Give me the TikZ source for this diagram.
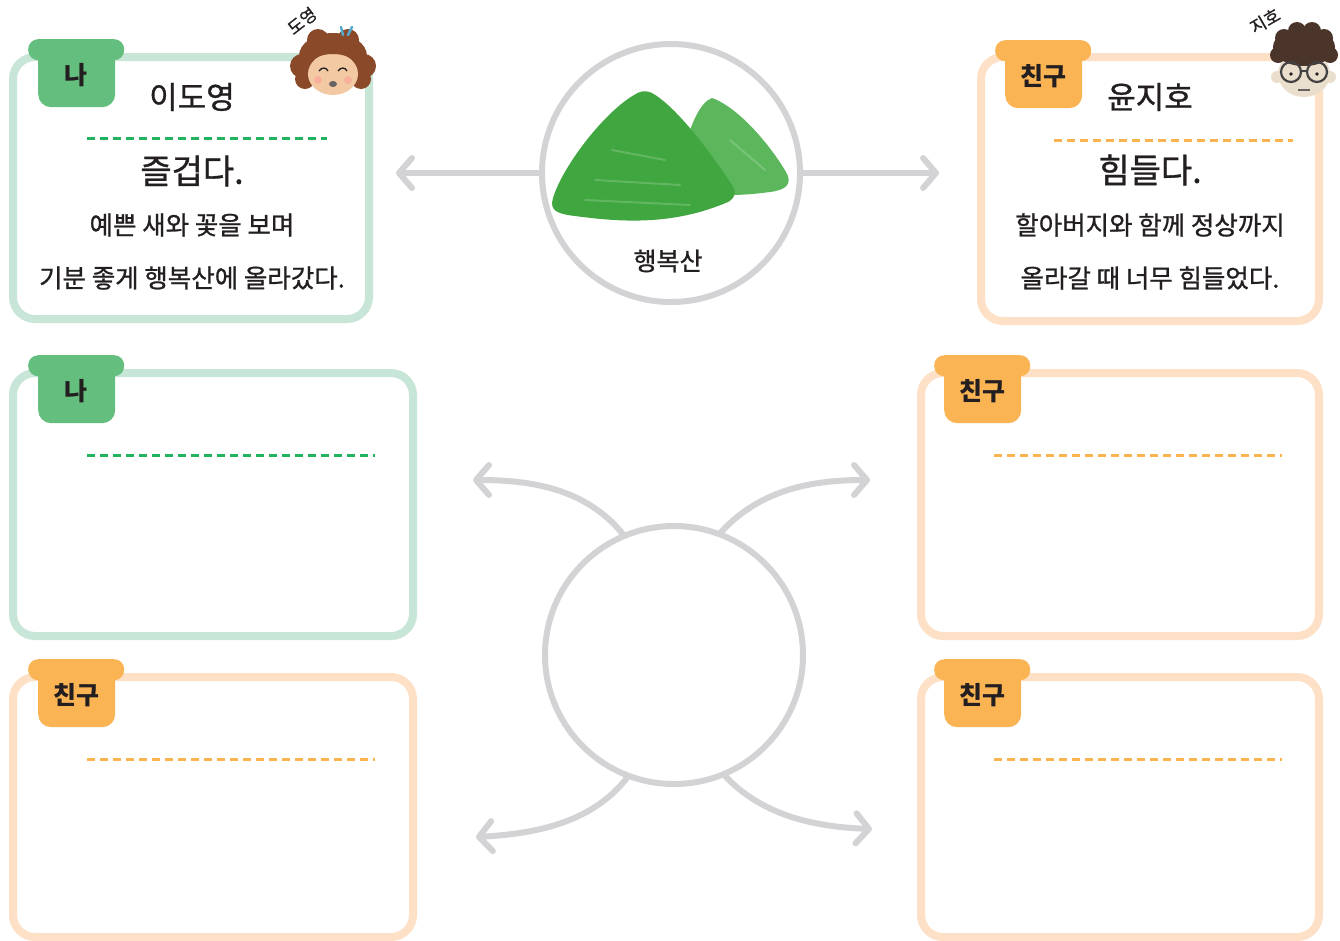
\documentclass[tikz,border=0pt]{standalone}
\usepackage{fontspec}
\setmainfont{Noto Sans CJK KR}
\newfontfamily\krmid[FakeBold=1]{Noto Sans CJK KR}
\usetikzlibrary{arrows.meta}
\definecolor{gBorder}{HTML}{C8E6D7}
\definecolor{gTab}{HTML}{64BE7D}
\definecolor{gDash}{HTML}{22B35F}
\definecolor{oBorder}{HTML}{FDE0C5}
\definecolor{oTab}{HTML}{FBB453}
\definecolor{oDash}{HTML}{F9B44F}
\definecolor{ring}{HTML}{D3D3D5}
\definecolor{ink}{HTML}{231F20}
\definecolor{mtnA}{HTML}{40A640}
\definecolor{mtnB}{HTML}{5CB65C}
\definecolor{hairG}{HTML}{8A4A2A}
\definecolor{skinG}{HTML}{F2C9A2}
\definecolor{hairB}{HTML}{4B352B}
\definecolor{skinB}{HTML}{EADFCC}
\newcommand{\cardtab}[5]{%
  \node[tabpart, fill=#4, rounded corners=10pt, minimum width=96pt, minimum height=21pt] (#1lip) at (#2,#3) {};
  \node[tabpart, fill=#4, rounded corners=13pt, minimum width=77pt, minimum height=68pt] (#1) at (#2+10,#3) {};
  \node[tabtext] (#1txt) at (#2+48,#3+36) {#5};
}
\begin{document}
\begin{tikzpicture}[x=1pt,y=-1pt,
  cardbox/.style={draw, line width=8pt, rounded corners=22pt, inner sep=0pt, fill=white},
  gbox/.style={cardbox, draw=gBorder},
  obox/.style={cardbox, draw=oBorder},
  tabpart/.style={inner sep=0pt, anchor=north west},
  tabtext/.style={text=ink, font=\bfseries\fontsize{25}{30}\selectfont},
  gdash/.style={draw=gDash, line width=3pt, dash pattern=on 8pt off 5pt},
  odash/.style={draw=oDash, line width=3pt, dash pattern=on 8pt off 5pt},
  nametext/.style={text=ink, font=\krmid\fontsize{31}{36}\selectfont},
  feeltext/.style={text=ink, font=\krmid\fontsize{34}{40}\selectfont},
  bodytext/.style={text=ink, font=\krmid\fontsize{25.5}{30}\selectfont},
  ringnode/.style={circle, draw=ring, line width=6pt, minimum size=258pt, inner sep=0pt},
  arr/.style={draw=ring, line width=6pt, line cap=round, -{Straight Barb[length=13pt,width=30pt,round]}},
  tag/.style={text=ink, inner sep=0pt, font=\krmid\fontsize{17}{20}\selectfont}
]
\useasboundingbox (0,0) rectangle (1340,940);
\fill[white] (0,0) rectangle (1340,940);

% ---------- cards ----------
\node[gbox, minimum width=356pt, minimum height=262pt] (b1) at (191,188) {};
\node[obox, minimum width=338pt, minimum height=264pt] (b2) at (1150,189) {};
\node[gbox, minimum width=400pt, minimum height=263pt] (b3) at (213,504.5) {};
\node[obox, minimum width=398pt, minimum height=263pt] (b4) at (1120,504.5) {};
\node[obox, minimum width=400pt, minimum height=260pt] (b5) at (213,807) {};
\node[obox, minimum width=398pt, minimum height=260pt] (b6) at (1120,807) {};

\cardtab{t1}{28}{39}{gTab}{나}
\cardtab{t2}{995}{40}{oTab}{친구}
\cardtab{t3}{28}{355}{gTab}{나}
\cardtab{t4}{934}{355}{oTab}{친구}
\cardtab{t5}{28}{659}{oTab}{친구}
\cardtab{t6}{934}{659}{oTab}{친구}

% dashed rules
\coordinate (d1a) at (87,138);  \coordinate (d1b) at (327,138);
\coordinate (d2a) at (1054,140); \coordinate (d2b) at (1293,140);
\coordinate (d3a) at (87,455);  \coordinate (d3b) at (375,455);
\coordinate (d4a) at (994,455); \coordinate (d4b) at (1282,455);
\coordinate (d5a) at (87,759);  \coordinate (d5b) at (375,759);
\coordinate (d6a) at (994,759); \coordinate (d6b) at (1282,759);
\draw[gdash] (d1a) -- (d1b);
\draw[odash] (d2a) -- (d2b);
\draw[gdash] (d3a) -- (d3b);
\draw[odash] (d4a) -- (d4b);
\draw[odash] (d5a) -- (d5b);
\draw[odash] (d6a) -- (d6b);

% texts of the top cards
\node[nametext] (n1) at (192,97) {이도영};
\node[feeltext] (f1) at (192,171) {즐겁다.};
\node[bodytext] (l1a) at (192,225) {예쁜 새와 꽃을 보며};
\node[bodytext] (l1b) at (192,278) {기분 좋게 행복산에 올라갔다.};
\node[nametext] (n2) at (1150,97) {윤지호};
\node[feeltext] (f2) at (1150,170) {힘들다.};
\node[bodytext] (l2a) at (1150,225) {할아버지와 함께 정상까지};
\node[bodytext] (l2b) at (1150,278) {올라갈 때 너무 힘들었다.};

% ---------- girl face ----------
\begin{scope}
\fill[hairG] (333,56) ellipse [x radius=34, y radius=23];
\foreach \cx/\cy/\r in {302/66/12, 364/66/12, 305/79/10, 361/79/10, 318/40/11, 348/40/11}
  \fill[hairG] (\cx,\cy) circle (\r);
\fill[skinG] (333,74) ellipse [x radius=25, y radius=21];
\fill[hairG] (308,66) .. controls (314,50) and (352,50) .. (358,66) -- (358,46) -- (308,46) -- cycle;
\draw[ink, line width=1.3pt] (319,71) .. controls (322,67) and (326,67) .. (328,71);
\draw[ink, line width=1.3pt] (338,71) .. controls (341,67) and (345,67) .. (347,71);
\fill[ink!70] (333,84) ellipse [x radius=4, y radius=3];
\fill[red!40, opacity=0.5] (318,80) circle (4);
\fill[red!40, opacity=0.5] (348,80) circle (4);
\draw[cyan!60!gray, line width=2.5pt, line cap=round] (343,35) -- (341,27);
\draw[cyan!60!gray, line width=2.5pt, line cap=round] (348,35) -- (352,27);
\end{scope}
\node[tag, rotate=38] (tg1) at (302,21) {도영};

% ---------- boy face ----------
\begin{scope}
\fill[skinB] (1277,77) circle (6);
\fill[skinB] (1330,77) circle (6);
\fill[skinB] (1304,74) ellipse [x radius=26, y radius=23];
\fill[hairB] (1304,47) ellipse [x radius=31, y radius=19];
\foreach \cx/\cy/\r in {1278/55/8, 1330/55/8, 1284/38/9, 1324/38/9, 1297/31/9, 1312/31/9, 1305/56/9, 1291/56/7, 1319/56/7}
  \fill[hairB] (\cx,\cy) circle (\r);
\draw[ink!85, line width=2.2pt] (1291,72) circle (10);
\draw[ink!85, line width=2.2pt] (1317,72) circle (10);
\draw[ink!85, line width=1.8pt] (1301,71) -- (1307,71);
\fill[ink] (1291,74) circle (1.8);
\fill[ink] (1317,74) circle (1.8);
\draw[ink!70, line width=1.2pt] (1298,90) -- (1310,90);
\end{scope}
\node[tag, rotate=30] (tg2) at (1265,21) {지호};

% ---------- upper circle with mountains ----------
\node[ringnode, fill=white] (c1) at (671,173) {};
\fill[mtnB] (712,98) .. controls (740,108) and (772,148) .. (786,172)
  .. controls (793,184) and (786,190) .. (770,192)
  .. controls (755,194) and (742,195) .. (730,195) -- (684,150)
  .. controls (690,126) and (700,102) .. (712,98) -- cycle;
\fill[mtnA] (634,95) .. controls (602,114) and (562,168) .. (553,198)
  .. controls (549,211) and (558,214) .. (575,216)
  .. controls (620,222) and (672,226) .. (728,202)
  .. controls (737,197) and (736,190) .. (730,182)
  .. controls (702,140) and (672,104) .. (652,93)
  .. controls (645,90) and (640,91) .. (634,95) -- cycle;
\begin{scope}[white, opacity=0.18, line width=2pt, line cap=round]
\draw (585,200) -- (690,205);
\draw (595,180) -- (680,185);
\draw (612,150) -- (665,160);
\draw (730,140) -- (765,170);
\end{scope}
\node[text=ink, font=\krmid\fontsize{25}{30}\selectfont] (m1) at (668,261) {행복산};
\coordinate (la) at (396,173);
\coordinate (ra) at (939,173);
\draw[arr] (c1.west) -- (la);
\draw[arr] (c1.east) -- (ra);

% ---------- lower circle with curved arrows ----------
\node[ringnode] (c2) at (674,655) {};
\coordinate (ul) at (473,480);
\coordinate (ur) at (870,480);
\coordinate (dl) at (476,837);
\coordinate (dr) at (872,829);
\draw[arr] (c2.113) .. controls (585,488) and (530,480) .. (ul);
\draw[arr] (c2.69) .. controls (762,488) and (815,480) .. (ur);
\draw[arr] (c2.249) .. controls (590,825) and (530,834) .. (dl);
\draw[arr] (c2.293) .. controls (765,818) and (820,827) .. (dr);
\end{tikzpicture}
\end{document}
